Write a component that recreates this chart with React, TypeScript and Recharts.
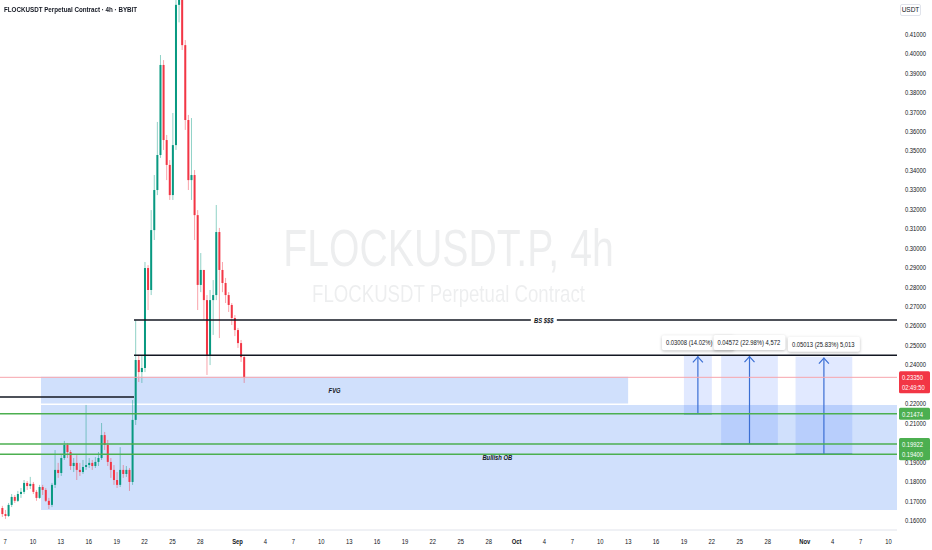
import { ComposedChart, Bar, XAxis, YAxis, ReferenceLine, ReferenceArea } from 'recharts';

// 8h candles from Aug 6 12:00 to Sep 2
const CANDLE_HIGH = [
  0.1674, 0.1653, 0.1689, 0.1735, 0.173, 0.1751, 0.1766, 0.1807, 0.1802, 0.1823,
  0.1797, 0.1756, 0.1782, 0.1782, 0.1766, 0.1715, 0.1792, 0.1961, 0.1895, 0.1935,
  0.2008, 0.1997, 0.1961, 0.192, 0.1935, 0.1895, 0.191, 0.2193, 0.192, 0.191,
  0.1925, 0.1951, 0.21, 0.2054, 0.2013, 0.192, 0.1884, 0.1848, 0.1976, 0.1884,
  0.1879, 0.1869, 0.2218, 0.263, 0.245, 0.2445, 0.2928, 0.2912, 0.3195, 0.3375,
  0.3648, 0.3992, 0.3966, 0.3581, 0.3452, 0.3694, 0.438, 0.445, 0.4352, 0.4069,
  0.3684, 0.3668, 0.3401, 0.3195, 0.2974, 0.2887, 0.2758, 0.2784, 0.2835, 0.3221,
  0.3103, 0.2928, 0.2846, 0.2773, 0.2717, 0.2655, 0.2589, 0.2527, 0.245,
];
const CANDLE_LOW = [
  0.1617, 0.1607, 0.1617, 0.1668, 0.1689, 0.1694, 0.1715, 0.1735, 0.1756, 0.1761,
  0.1735, 0.17, 0.171, 0.173, 0.1694, 0.1658, 0.1668, 0.1766, 0.1818, 0.1828,
  0.191, 0.192, 0.1859, 0.1848, 0.1807, 0.1828, 0.1838, 0.1859, 0.1869, 0.1859,
  0.1869, 0.1879, 0.191, 0.1961, 0.1879, 0.1818, 0.1782, 0.1766, 0.1771, 0.1818,
  0.1823, 0.1751, 0.1782, 0.209, 0.2311, 0.2306, 0.2362, 0.2681, 0.2758, 0.3041,
  0.3272, 0.3463, 0.3504, 0.3349, 0.3247, 0.3247, 0.3504, 0.416, 0.4018, 0.3607,
  0.3298, 0.3247, 0.3041, 0.2681, 0.2773, 0.263, 0.2347, 0.2398, 0.2553, 0.2732,
  0.2537, 0.2773, 0.2717, 0.2671, 0.2604, 0.2547, 0.2486, 0.2414, 0.2306,
];
const CANDLE_CLOSE = [
  0.1632, 0.1622, 0.1679, 0.172, 0.17, 0.1735, 0.1746, 0.1792, 0.1776, 0.1787,
  0.1746, 0.1715, 0.1771, 0.1756, 0.17, 0.1679, 0.1782, 0.1859, 0.1843, 0.192,
  0.1987, 0.1951, 0.1879, 0.1895, 0.1859, 0.1848, 0.1874, 0.1884, 0.1895, 0.1879,
  0.19, 0.192, 0.2038, 0.1987, 0.19, 0.1859, 0.1807, 0.1782, 0.1859, 0.1838,
  0.1859, 0.1797, 0.2116, 0.2424, 0.2362, 0.2383, 0.2897, 0.2784, 0.3092, 0.3298,
  0.3478, 0.3941, 0.3555, 0.3427, 0.3272, 0.3529, 0.425, 0.43, 0.4043, 0.3658,
  0.3349, 0.3375, 0.3169, 0.281, 0.2887, 0.2732, 0.245, 0.2732, 0.2758, 0.3082,
  0.2887, 0.282, 0.2758, 0.2707, 0.264, 0.2578, 0.2511, 0.2439, 0.2335,
];
const FIRST_OPEN = 0.1663;

// days counted from Aug 7
const X_TICK_DAYS = [
  0, 3, 6, 9, 12, 15, 18, 21, 25, 28, 31, 34, 37, 40, 43, 46, 49, 52,
  55, 58, 61, 64, 67, 70, 73, 76, 79, 82, 86, 89, 92, 95,
];
const X_TICK_LABELS = [
  '7', '10', '13', '16', '19', '22', '25', '28', 'Sep', '4', '7', '10', '13', '16', '19', '22', '25', '28',
  'Oct', '4', '7', '10', '13', '16', '19', '22', '25', '28', 'Nov', '4', '7', '10',
];
const PRICE_TICKS = [
  0.41, 0.4, 0.39, 0.38, 0.37, 0.36, 0.35, 0.34, 0.33, 0.32, 0.31, 0.3, 0.29, 0.28,
  0.27, 0.26, 0.25, 0.24, 0.22, 0.21, 0.19, 0.18, 0.17, 0.16,
];

const LAST_PRICE = 0.2335;
const COUNTDOWN = '02:49:50';
const SUPPORT_LEVELS = [0.21474, 0.19922, 0.194];

const RANGE_FROM_DAY = [73.0, 77.0, 85.0];
const RANGE_TO_DAY = [76.0, 83.1, 91.1];
const RANGE_LOW = [0.21474, 0.19922, 0.194];
const RANGE_HIGH = [0.24482, 0.24494, 0.24413];
// the first label's tail is hidden under the second one in the original
const RANGE_TEXT = ['0.03008 (14.02%)', '0.04572 (22.98%) 4,572', '0.05013 (25.83%) 5,013'];

const UP = '#089981';
const DOWN = '#f23645';
const BOX_FILL = 'rgba(66,133,244,0.25)';
const FONT = '"Liberation Sans", Arial, sans-serif';
const SQUEEZE = 0.78;

const data = CANDLE_CLOSE.map((close, i) => ({
  day: -0.5 + (i + 0.5) / 3,
  open: i === 0 ? FIRST_OPEN : CANDLE_CLOSE[i - 1],
  close,
  high: CANDLE_HIGH[i],
  low: CANDLE_LOW[i],
  range: [CANDLE_LOW[i], CANDLE_HIGH[i]],
}));

function Candle(props: any) {
  const { x, y, width, height, payload } = props;
  if (x == null || !payload) return null;
  const { open, close, high, low } = payload;
  const color = close >= open ? UP : DOWN;
  const k = high > low ? height / (high - low) : 0;
  const yo = y + (high - open) * k;
  const yc = y + (high - close) * k;
  const cx = x + width / 2;
  return (
    <g>
      <line x1={cx} x2={cx} y1={y} y2={y + height} stroke={color} strokeOpacity={0.45} />
      <rect x={x} y={Math.min(yo, yc)} width={width} height={Math.max(Math.abs(yo - yc), 1)} fill={color} />
    </g>
  );
}

function XTick({ x, y, payload }: any) {
  const idx = X_TICK_DAYS.indexOf(payload.value);
  const label = X_TICK_LABELS[idx] ?? '';
  const month = /[A-Za-z]/.test(label);
  return (
    <text
      transform={`translate(${x},${y + 6}) scale(${SQUEEZE},1)`}
      textAnchor="middle"
      fontSize={7.5}
      fontWeight={month ? 700 : 400}
      fill="#131722"
      fontFamily={FONT}
    >
      {label}
    </text>
  );
}

function YTick({ x, y, payload }: any) {
  return (
    <text
      transform={`translate(${x},${y + 2.7}) scale(${SQUEEZE},1)`}
      textAnchor="start"
      fontSize={7.5}
      fill="#131722"
      fontFamily={FONT}
    >
      {Number(payload.value).toFixed(5)}
    </text>
  );
}

function priceTag(text: string, fill: string, second?: string) {
  return (p: any) => {
    const vb = p.viewBox;
    if (!vb) return null;
    const left = vb.x + vb.width + 2;
    const cy = vb.y;
    const h = second ? 22 : 12;
    return (
      <g>
        <rect x={left} y={cy - 6} width={31} height={h} rx={1.5} fill={fill} />
        <text transform={`translate(${left + 3},${cy + 2.7}) scale(${SQUEEZE},1)`} fontSize={7.5} fill="#fff" fontFamily={FONT}>
          {text}
        </text>
        {second && (
          <text transform={`translate(${left + 3},${cy + 12.7}) scale(${SQUEEZE},1)`} fontSize={7.5} fill="#fff" fontFamily={FONT}>
            {second}
          </text>
        )}
      </g>
    );
  };
}

function boxText(text: string, w: number) {
  return (p: any) => {
    const vb = p.viewBox;
    if (!vb) return null;
    const cx = vb.x + vb.width / 2;
    const cy = vb.y + vb.height / 2;
    return (
      <g>
        {w > 0 && <rect x={cx - w / 2} y={cy - 5} width={w} height={10} fill="#fff" />}
        <text
          transform={`translate(${cx},${cy + 2.6}) scale(${SQUEEZE},1)`}
          textAnchor="middle"
          fontSize={7.5}
          fontStyle="italic"
          fontWeight={700}
          fill="#131722"
          fontFamily={FONT}
        >
          {text}
        </text>
      </g>
    );
  };
}

function rangeShape(text: string) {
  return (p: any) => {
    const { x, y, width, height } = p;
    if (x == null) return null;
    const cx = x + width / 2;
    const bottom = y + height;
    return (
      <g>
        <rect x={x} y={y} width={width} height={height} fill="rgba(41,98,255,0.14)" />
        <line x1={x} x2={x + width} y1={bottom} y2={bottom} stroke="#3b6fd4" strokeWidth={1.2} />
        <line x1={cx} x2={cx} y1={bottom} y2={y + 1} stroke="#3b6fd4" strokeWidth={1.2} />
        <polyline points={`${cx - 5},${y + 7} ${cx},${y + 1.5} ${cx + 5},${y + 7}`} fill="none" stroke="#3b6fd4" strokeWidth={1.2} />
        <rect
          x={cx - 36}
          y={y - 20}
          width={72}
          height={15}
          rx={2}
          fill="#fff"
          style={{ filter: 'drop-shadow(0 1px 1.5px rgba(0,0,0,0.25))' }}
        />
        <text
          transform={`translate(${cx - 32},${y - 10}) scale(${SQUEEZE},1)`}
          textAnchor="start"
          fontSize={7.5}
          fill="#131722"
          fontFamily={FONT}
        >
          {text}
        </text>
      </g>
    );
  };
}

export default function App() {
  return (
    <div style={{ position: 'absolute', left: 0, top: 0, width: 932, height: 550, background: '#fff', overflow: 'hidden' }}>
      <div
        style={{
          position: 'absolute',
          left: 0,
          width: 897,
          top: 222,
          textAlign: 'center',
          fontFamily: FONT,
          color: 'rgba(19,23,34,0.075)',
          lineHeight: 1,
        }}
      >
        <div style={{ fontSize: 52, transform: 'scaleX(0.754)' }}>FLOCKUSDT.P, 4h</div>
        <div style={{ fontSize: 24, marginTop: 8, transform: 'scaleX(0.776)' }}>FLOCKUSDT Perpetual Contract</div>
      </div>
      <div style={{ position: 'absolute', left: 0, top: 0 }}>
        <ComposedChart width={932} height={550} data={data} margin={{ top: 0, right: 0, bottom: 0, left: 0 }}>
          <XAxis
            dataKey="day"
            type="number"
            domain={[-0.54, 95.91]}
            allowDataOverflow
            ticks={X_TICK_DAYS}
            interval={0}
            tick={<XTick />}
            tickLine={false}
            axisLine={{ stroke: '#e0e3eb' }}
            height={20}
          />
          <YAxis
            orientation="right"
            type="number"
            domain={[0.155, 0.4275]}
            allowDataOverflow
            ticks={PRICE_TICKS}
            interval={0}
            tick={<YTick />}
            tickLine={false}
            axisLine={false}
            width={35}
          />
          <ReferenceArea
            x1={3.87}
            x2={67.0}
            y1={0.22}
            y2={0.2338}
            ifOverflow="hidden"
            fill={BOX_FILL}
            fillOpacity={1}
            stroke="none"
            label={boxText('FVG', 0)}
          />
          <ReferenceArea
            x1={3.87}
            x2={102}
            y1={0.1653}
            y2={0.2193}
            ifOverflow="hidden"
            fill={BOX_FILL}
            fillOpacity={1}
            stroke="none"
            label={boxText('Bullish OB', 0)}
          />
          {RANGE_TEXT.map((t, i) => (
            <ReferenceArea
              key={t}
              x1={RANGE_FROM_DAY[i]}
              x2={RANGE_TO_DAY[i]}
              y1={RANGE_LOW[i]}
              y2={RANGE_HIGH[i]}
              ifOverflow="hidden"
              shape={rangeShape(t)}
            />
          ))}
          <ReferenceLine y={LAST_PRICE} stroke="#f7a5ac" strokeWidth={1} label={priceTag('0.23350', DOWN, COUNTDOWN)} />
          {SUPPORT_LEVELS.map((v) => (
            <ReferenceLine
              key={v}
              y={v}
              stroke="#4caf50"
              strokeWidth={1.5}
              label={priceTag(v.toFixed(5), '#4caf50')}
            />
          ))}
          <ReferenceLine
            segment={[{ x: 13.87, y: 0.263 }, { x: 102, y: 0.263 }]}
            ifOverflow="hidden"
            stroke="#131722"
            strokeWidth={1.5}
            label={boxText('BS $$$', 26)}
          />
          <ReferenceLine
            segment={[{ x: 13.87, y: 0.2448 }, { x: 102, y: 0.2448 }]}
            ifOverflow="hidden"
            stroke="#131722"
            strokeWidth={1.5}
          />
          <ReferenceLine
            segment={[{ x: -1, y: 0.2234 }, { x: 13.87, y: 0.2234 }]}
            ifOverflow="hidden"
            stroke="#131722"
            strokeWidth={1.5}
          />
          <Bar dataKey="range" barSize={2} shape={<Candle />} isAnimationActive={false} />
        </ComposedChart>
      </div>
      <div
        style={{
          position: 'absolute',
          left: 4,
          top: 5,
          fontFamily: FONT,
          fontSize: 8,
          fontWeight: 600,
          color: '#131722',
          transform: `scaleX(${SQUEEZE})`,
          transformOrigin: 'left center',
          whiteSpace: 'nowrap',
        }}
      >
        FLOCKUSDT Perpetual Contract · 4h · BYBIT
      </div>
      <div
        style={{
          position: 'absolute',
          left: 900,
          top: 4,
          width: 21,
          height: 12,
          border: '1px solid #e0e3eb',
          borderRadius: 2,
          boxSizing: 'border-box',
          fontFamily: FONT,
          fontSize: 6.5,
          color: '#131722',
          lineHeight: '10px',
          textAlign: 'center',
        }}
      >
        USDT
      </div>
    </div>
  );
}
